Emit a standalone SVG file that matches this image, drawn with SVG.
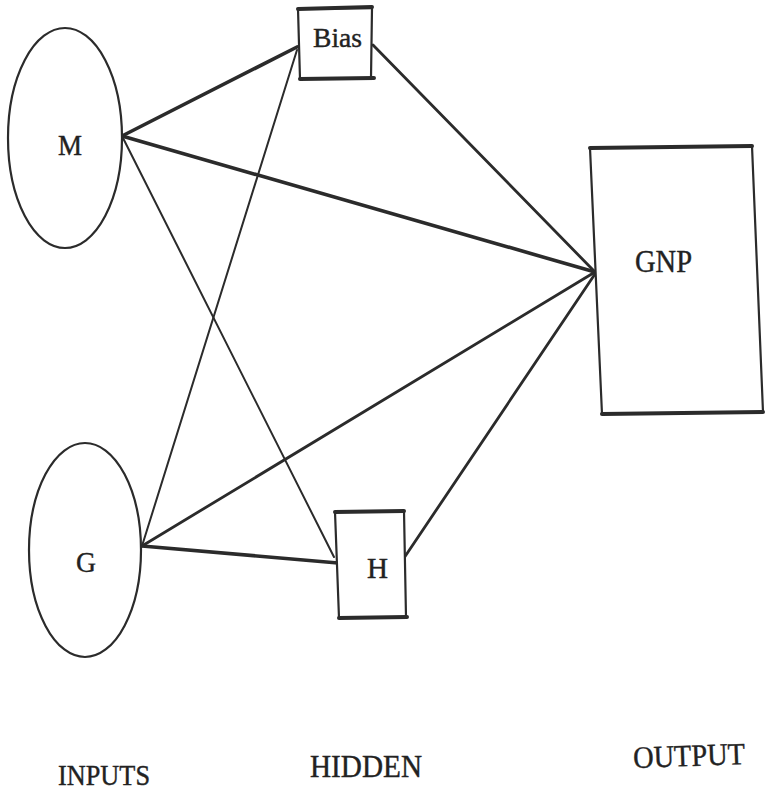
<svg xmlns="http://www.w3.org/2000/svg" width="768" height="792" viewBox="0 0 768 792">
  <style>
    .edge { fill: none; stroke: #2b2b2b; stroke-linecap: round; }
    .thin { stroke-width: 2; }
    .mid { stroke-width: 2.8; }
    .thick { stroke-width: 3.6; }
    .outline { fill: #fff; stroke: #2b2b2b; stroke-width: 2.2; stroke-linejoin: round; }
    .bar { fill: none; stroke: #2b2b2b; stroke-width: 4; stroke-linecap: round; }
    .label { font-family: "Liberation Serif", "Times New Roman", serif; fill: #222; stroke: #222; stroke-width: 0.4; }
  </style>
  <rect width="768" height="792" fill="#fff"/>

  <!-- weighted links between layers -->
  <g id="connectors">
    <line class="edge thick" x1="122" y1="136" x2="297" y2="47"/>
    <line class="edge thick" x1="122" y1="136" x2="595" y2="272"/>
    <line class="edge thin" x1="122" y1="136" x2="334" y2="557"/>
    <line class="edge thin" x1="142" y1="546" x2="297" y2="50"/>
    <line class="edge mid" x1="142" y1="546" x2="595" y2="272"/>
    <line class="edge thick" x1="142" y1="546" x2="338" y2="563"/>
    <line class="edge mid" x1="373" y1="45" x2="595" y2="272"/>
    <line class="edge mid" x1="404" y1="558" x2="595" y2="274"/>
  </g>

  <!-- input layer -->
  <g id="node-M">
    <ellipse class="outline" cx="65" cy="138" rx="57" ry="110" fill="none"/>
    <text class="label" x="58" y="155" font-size="30" textLength="24" lengthAdjust="spacingAndGlyphs">M</text>
  </g>
  <g id="node-G">
    <ellipse class="outline" cx="85" cy="550" rx="56" ry="107" fill="none"/>
    <text class="label" x="76" y="572" font-size="30" textLength="20" lengthAdjust="spacingAndGlyphs">G</text>
  </g>

  <!-- hidden layer -->
  <g id="node-Bias">
    <path class="outline" d="M298,9 L372,8 L371,78 L300,79 Z"/>
    <line class="bar" x1="298" y1="9" x2="372" y2="7"/>
    <line class="bar" x1="300" y1="79" x2="374" y2="78"/>
    <text class="label" x="313" y="47" font-size="27" textLength="49" lengthAdjust="spacingAndGlyphs">Bias</text>
  </g>
  <g id="node-H">
    <path class="outline" d="M335,512 L404,511 L406,617 L339,618 Z"/>
    <line class="bar" x1="335" y1="512" x2="404" y2="511"/>
    <line class="bar" x1="339" y1="618" x2="407" y2="617"/>
    <text class="label" x="367" y="578" font-size="29" textLength="21" lengthAdjust="spacingAndGlyphs">H</text>
  </g>

  <!-- output layer -->
  <g id="node-GNP">
    <path class="outline" d="M590,148 L752,146 L763,412 L602,414 Z"/>
    <line class="bar" x1="590" y1="148" x2="752" y2="146"/>
    <line class="bar" x1="602" y1="414" x2="763" y2="412"/>
    <text class="label" x="635" y="272" font-size="31" textLength="57" lengthAdjust="spacingAndGlyphs">GNP</text>
  </g>

  <!-- layer captions -->
  <g id="captions">
    <text class="label" x="58" y="785" font-size="30" textLength="92" lengthAdjust="spacingAndGlyphs">INPUTS</text>
    <text class="label" x="310" y="777" font-size="31" textLength="112" lengthAdjust="spacingAndGlyphs">HIDDEN</text>
    <text class="label" x="633" y="766" font-size="31" textLength="112" lengthAdjust="spacingAndGlyphs" transform="rotate(-2 689 756)">OUTPUT</text>
  </g>
</svg>
